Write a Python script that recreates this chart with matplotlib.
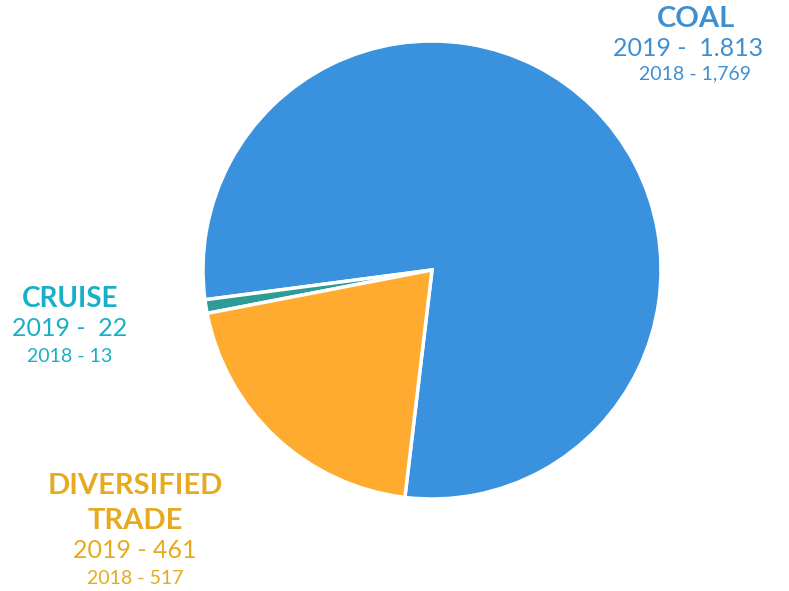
import matplotlib.pyplot as plt

# values
segments = ["COAL", "CRUISE", "DIVERSIFIED\nTRADE"]
values_2019 = [1813, 22, 461]
label_2019 = ["2019 -  1.813", "2019 -  22", "2019 - 461"]
label_2018 = ["2018 - 1,769", "2018 - 13", "2018 - 517"]

slice_colors = ["#3a92df", "#2e9c96", "#ffab30"]
text_colors = ["#3e8fd2", "#17b0c6", "#e5aa1e"]

W, H = 789, 591
fig = plt.figure(figsize=(W / 100, H / 100), dpi=100)
ax = fig.add_axes([0, 0, 1, 1])
ax.set_xlim(0, W)
ax.set_ylim(0, H)
ax.set_aspect("equal")
ax.axis("off")

ax.pie(values_2019, colors=slice_colors, startangle=-96.8, counterclock=True,
       center=(432, H - 270), radius=229,
       wedgeprops=dict(edgecolor="white", linewidth=2.5))
ax.set_xlim(0, W)
ax.set_ylim(0, H)

font = "Lato"

def put(x, y, s, color, size, weight="normal"):
    ax.text(x, H - y, s, ha="center", va="center", color=color,
            fontsize=size, fontweight=weight, family=font)

# COAL
put(696, 19, segments[0], text_colors[0], 21, "bold")
put(688, 48, label_2019[0], text_colors[0], 18)
put(695, 74, label_2018[0], text_colors[0], 14)

# CRUISE
put(70, 299, segments[1], text_colors[1], 20, "bold")
put(70, 328, label_2019[1], text_colors[1], 18)
put(70, 356, label_2018[1], text_colors[1], 14)

# DIVERSIFIED TRADE (two title lines, wider gap)
for i, line in enumerate(segments[2].split("\n")):
    put(135, 486 + 35 * i, line, text_colors[2], 21, "bold")
put(135, 551, label_2019[2], text_colors[2], 18)
put(135, 578, label_2018[2], text_colors[2], 14)

fig.savefig("out.png", dpi=100)
